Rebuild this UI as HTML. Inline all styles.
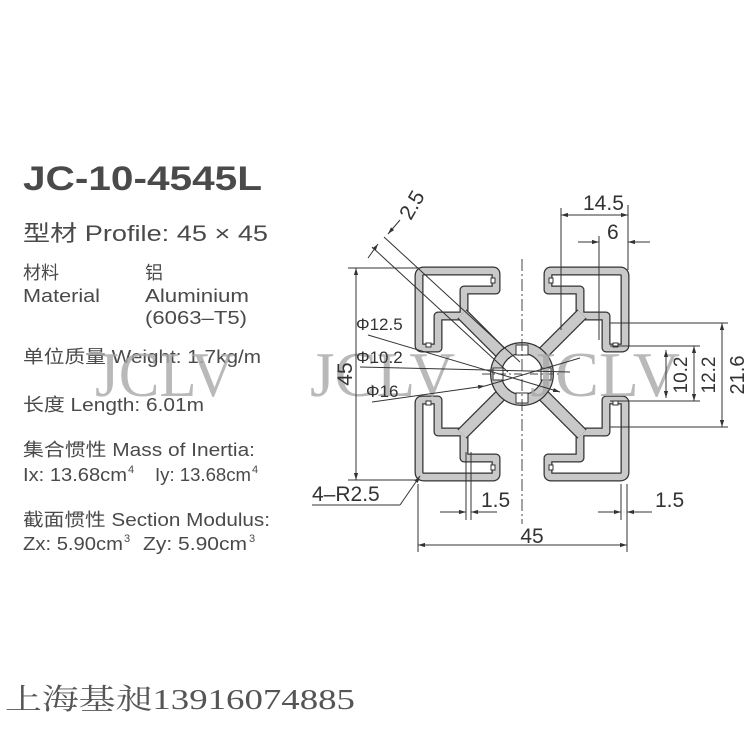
<!DOCTYPE html>
<html><head><meta charset="utf-8"><style>
body{margin:0;background:#fff}
svg{display:block}
.t{font-family:"Liberation Sans","Noto Sans CJK SC",sans-serif;fill:#4a4a4a}
.d{font-family:"Liberation Sans",sans-serif;fill:#333;font-size:21px}
</style></head><body>
<svg width="750" height="750" viewBox="0 0 750 750" xmlns="http://www.w3.org/2000/svg">
<defs>
<marker id="ar" viewBox="0 0 10 10" refX="10" refY="5" markerWidth="7" markerHeight="7" orient="auto-start-reverse"><path d="M0,2 L10,5 L0,8z" fill="#333"/></marker>
<g id="q">
  <path d="M-26,-84 L-26,-100 Q-26,-103 -29,-103 L-98,-103 Q-103,-103 -103,-98 L-103,-29 Q-103,-26 -100,-26 L-84,-26 L-84,-58 L-58,-58 L-58,-84 Z M-58,-58 L-22,-22" fill="none" stroke="#333" stroke-width="9" stroke-linejoin="round"/>
  <path d="M-26,-84 L-26,-100 Q-26,-103 -29,-103 L-98,-103 Q-103,-103 -103,-98 L-103,-29 Q-103,-26 -100,-26 L-84,-26 L-84,-58 L-58,-58 L-58,-84 Z" fill="none" stroke="#c9c9c9" stroke-width="6.5" stroke-linejoin="round"/>
  <path d="M-60,-60 L-22,-22" stroke="#333" stroke-width="13"/>
  <path d="M-60,-60 L-22,-22" stroke="#c9c9c9" stroke-width="10.5"/>
  <g fill="#fff" stroke="#333" stroke-width="1">
    <rect x="-31" y="-96" width="4" height="5"/>
    <rect x="-96" y="-31" width="5" height="4"/>
  </g>
</g>
</defs>

<!-- left texts -->
<text class="t" x="23" y="190" font-size="34" font-weight="bold" fill="#454545" textLength="239" lengthAdjust="spacingAndGlyphs">JC-10-4545L</text>
<text class="t" x="23" y="241" font-size="22" textLength="245" lengthAdjust="spacingAndGlyphs">型材 Profile: 45 × 45</text>
<text class="t" x="23" y="279" font-size="18">材料</text>
<text class="t" x="23" y="302" font-size="18" textLength="77" lengthAdjust="spacingAndGlyphs">Material</text>
<text class="t" x="145" y="279" font-size="18">铝</text>
<text class="t" x="145" y="302" font-size="18" textLength="104" lengthAdjust="spacingAndGlyphs">Aluminium</text>
<text class="t" x="145" y="324" font-size="18" textLength="102" lengthAdjust="spacingAndGlyphs">(6063–T5)</text>
<text class="t" x="23" y="363" font-size="18" textLength="238" lengthAdjust="spacingAndGlyphs">单位质量 Weight: 1.7kg/m</text>
<text class="t" x="23" y="411" font-size="18" textLength="181" lengthAdjust="spacingAndGlyphs">长度 Length: 6.01m</text>
<text class="t" x="23" y="456" font-size="18" textLength="232" lengthAdjust="spacingAndGlyphs">集合惯性 Mass of Inertia:</text>
<text class="t" x="23" y="481" font-size="18" textLength="104" lengthAdjust="spacingAndGlyphs">Ix: 13.68cm</text>
<text class="t" x="128" y="473" font-size="11">4</text>
<text class="t" x="155" y="481" font-size="18" textLength="96" lengthAdjust="spacingAndGlyphs">Iy: 13.68cm</text>
<text class="t" x="252" y="473" font-size="11">4</text>
<text class="t" x="23" y="526" font-size="18" textLength="247" lengthAdjust="spacingAndGlyphs">截面惯性 Section Modulus:</text>
<text class="t" x="23" y="550" font-size="18" textLength="100" lengthAdjust="spacingAndGlyphs">Zx: 5.90cm</text>
<text class="t" x="124" y="542" font-size="11">3</text>
<text class="t" x="143" y="550" font-size="18" textLength="104" lengthAdjust="spacingAndGlyphs">Zy: 5.90cm</text>
<text class="t" x="249" y="542" font-size="11">3</text>

<!-- profile -->
<g transform="translate(522,374)">
  <use href="#q"/>
  <use href="#q" transform="scale(-1,1)"/>
  <use href="#q" transform="scale(1,-1)"/>
  <use href="#q" transform="scale(-1,-1)"/>
  <circle r="26" fill="none" stroke="#333" stroke-width="12"/>
  <circle r="26" fill="none" stroke="#c9c9c9" stroke-width="9.5"/>
  <g fill="#fff" stroke="#333" stroke-width="1">
    <rect x="-6" y="-29" width="12" height="10"/>
    <rect x="-6" y="19" width="12" height="10"/>
    <rect x="-29" y="-6" width="10" height="12"/>
    <rect x="19" y="-6" width="10" height="12"/>
  </g>
  <line x1="0" y1="-115" x2="0" y2="150" stroke="#444" stroke-width="1" stroke-dasharray="12,3,2,3"/>
  <line x1="-40" y1="0" x2="40" y2="0" stroke="#444" stroke-width="1" stroke-dasharray="8,3,2,3"/>
</g>

<!-- watermarks -->
<g font-family="'Liberation Serif',serif" font-size="64" fill="#a8a8a8" opacity="0.8">
<text x="95" y="396" textLength="140" lengthAdjust="spacingAndGlyphs">JCLV</text>
<text x="310" y="396" textLength="145" lengthAdjust="spacingAndGlyphs">JCLV</text>
<text x="530" y="396" textLength="150" lengthAdjust="spacingAndGlyphs">JCLV</text>
</g>

<!-- dimensions -->
<g stroke="#333" stroke-width="1" fill="none">
  <line x1="348" y1="268" x2="420" y2="268"/>
  <line x1="348" y1="480" x2="420" y2="480"/>
  <line x1="356" y1="268" x2="356" y2="480" marker-start="url(#ar)" marker-end="url(#ar)"/>
  <line x1="418" y1="484" x2="418" y2="552"/>
  <line x1="627" y1="484" x2="627" y2="552"/>
  <line x1="418" y1="545" x2="627" y2="545" marker-start="url(#ar)" marker-end="url(#ar)"/>
  <line x1="466" y1="452" x2="466" y2="520"/>
  <line x1="471" y1="452" x2="471" y2="520"/>
  <line x1="440" y1="512" x2="466" y2="512" marker-end="url(#ar)"/>
  <line x1="497" y1="512" x2="471" y2="512" marker-end="url(#ar)"/>
  <line x1="621" y1="484" x2="621" y2="520"/>
  <line x1="598" y1="512" x2="621" y2="512" marker-end="url(#ar)"/>
  <line x1="652" y1="512" x2="627" y2="512" marker-end="url(#ar)"/>
  <line x1="561" y1="208" x2="561" y2="330"/>
  <line x1="628" y1="205" x2="628" y2="270"/>
  <line x1="599" y1="236" x2="599" y2="340"/>
  <line x1="561" y1="215" x2="628" y2="215" marker-start="url(#ar)" marker-end="url(#ar)"/>
  <line x1="578" y1="242" x2="599" y2="242" marker-end="url(#ar)"/>
  <line x1="650" y1="242" x2="628" y2="242" marker-end="url(#ar)"/>
  <line x1="610" y1="323" x2="728" y2="323"/>
  <line x1="610" y1="427" x2="728" y2="427"/>
  <line x1="610" y1="346" x2="700" y2="346"/>
  <line x1="610" y1="401" x2="700" y2="401"/>
  <line x1="722" y1="323" x2="722" y2="427" marker-start="url(#ar)" marker-end="url(#ar)"/>
  <line x1="694" y1="346" x2="694" y2="401" marker-start="url(#ar)" marker-end="url(#ar)"/>
  <line x1="666" y1="350" x2="666" y2="398" marker-start="url(#ar)" marker-end="url(#ar)"/>
  <line x1="368" y1="335" x2="560" y2="392" marker-end="url(#ar)"/>
  <line x1="360" y1="367" x2="570" y2="372"/>
  <line x1="372" y1="402" x2="485" y2="386" marker-end="url(#ar)"/>
  <line x1="485" y1="386" x2="580" y2="358"/>
  <line x1="372" y1="247" x2="508" y2="372"/>
  <line x1="384" y1="237" x2="520" y2="362"/>
  <line x1="368" y1="258" x2="378" y2="244" marker-end="url(#ar)"/>
  <line x1="400" y1="220" x2="388" y2="234" marker-end="url(#ar)"/>
  <line x1="312" y1="505" x2="400" y2="505"/>
  <line x1="400" y1="505" x2="420" y2="476" marker-end="url(#ar)"/>
</g>
<g class="d">
  <text x="345" y="374" text-anchor="middle" transform="rotate(-90 345 374)" dy="7">45</text>
  <text x="532" y="543" text-anchor="middle">45</text>
  <text x="481" y="507">1.5</text>
  <text x="655" y="507">1.5</text>
  <text x="583" y="210">14.5</text>
  <text x="607" y="239">6</text>
  <text x="412" y="205" text-anchor="middle" transform="rotate(-60 412 205)" dy="7">2.5</text>
  <text x="356" y="330" font-size="17">Φ12.5</text>
  <text x="356" y="363" font-size="17">Φ10.2</text>
  <text x="366" y="397" font-size="17">Φ16</text>
  <text x="312" y="501">4–R2.5</text>
  <text x="680" y="375" text-anchor="middle" transform="rotate(-90 680 375)" dy="7" font-size="19">10.2</text>
  <text x="708" y="375" text-anchor="middle" transform="rotate(-90 708 375)" dy="7" font-size="19">12.2</text>
  <text x="737" y="375" text-anchor="middle" transform="rotate(-90 737 375)" dy="7" font-size="20">21.6</text>
</g>

<text x="5" y="709" font-family="'Liberation Serif','Noto Serif CJK SC',serif" font-size="29" fill="#555" textLength="350" lengthAdjust="spacingAndGlyphs">上海基昶13916074885</text>
</svg>
</body></html>
